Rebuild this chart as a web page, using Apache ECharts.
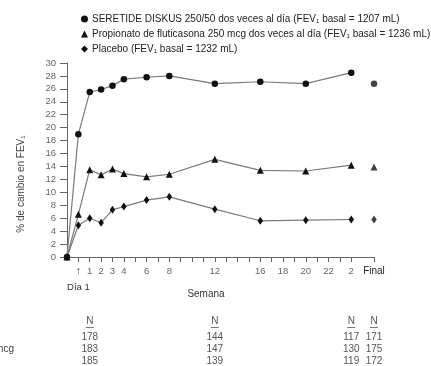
<!DOCTYPE html>
<html>
<head>
<meta charset="utf-8">
<script src="https://cdn.jsdelivr.net/npm/echarts@6/dist/echarts.min.js"></script>
<style>
  html, body { margin: 0; padding: 0; background: #fff; }
  #chart { width: 431px; height: 366px; }
</style>
</head>
<body>
<div id="chart"></div>
<script>
// eje x: 0, día 1, semanas 1..24, hueco, Final
const categories = ['0', 'd1'];
for (let w = 1; w <= 24; w++) categories.push(String(w));
categories.push('', 'Final');

// etiquetas visibles del eje x
const tickLabels = {
  '0': '0', 'd1': '{arr|↑}\n{day|Día 1}', '1': '1', '2': '2', '3': '3', '4': '4',
  '6': '6', '8': '8', '12': '12', '16': '16', '18': '18', '20': '20', '22': '22',
  '24': '2', 'Final': '{fin|Final}'
};

// puntos de medida
const visits = ['0', 'd1', '1', '2', '3', '4', '6', '8', '12', '16', '20', '24'];
const seretide = [0, 19.0, 25.5, 25.9, 26.5, 27.5, 27.8, 28.0, 26.8, 27.1, 26.8, 28.5];
const fluticasona = [0, 6.6, 13.5, 12.7, 13.6, 12.9, 12.4, 12.8, 15.1, 13.4, 13.3, 14.2];
const placebo = [0, 4.9, 6.0, 5.3, 7.3, 7.8, 8.8, 9.3, 7.4, 5.6, 5.7, 5.8];
const finalValues = [26.8, 13.9, 5.8];

const names = [
  'SERETIDE DISKUS 250/50 dos veces al día (FEV₁ basal = 1207 mL)',
  'Propionato de fluticasona 250 mcg dos veces al día (FEV₁ basal = 1236 mL)',
  'Placebo (FEV₁ basal = 1232 mL)'
];
const symbols = ['circle', 'triangle', 'diamond'];
const symbolSizes = [6.5, 7, [5.5, 8]];

// tabla de N
const nColumns = ['1', '12', '24', 'Final'];
const nRows = [
  ['178', '144', '117', '171'],
  ['183', '147', '130', '175'],
  ['185', '139', '119', '172']
];

const chart = echarts.init(document.getElementById('chart'));
const font = 'Liberation Sans, Arial, sans-serif';
const grid = { left: 67, right: 57, top: 63, bottom: 109 };

function pairs(values) {
  return visits.map((v, i) => [v, values[i]]);
}

let series = [];
[seretide, fluticasona, placebo].forEach((vals, i) => {
  series.push({
    type: 'line',
    name: names[i],
    data: pairs(vals),
    symbol: symbols[i],
    symbolSize: symbolSizes[i],
    itemStyle: { color: '#111' },
    lineStyle: { color: '#7a7a7a', width: 1.2 },
    z: 3 - i
  });
  series.push({
    type: 'scatter',
    data: [['Final', finalValues[i]]],
    symbol: symbols[i],
    symbolSize: symbolSizes[i],
    itemStyle: { color: '#111' }
  });
});

// texto de la tabla
let graphics = [];
function text(x, y, str, extra) {
  graphics.push({
    type: 'text', x: x, y: y, silent: true,
    style: Object.assign({
      text: str, font: '10px ' + font, fill: '#555',
      textAlign: 'center', textVerticalAlign: 'middle'
    }, extra || {})
  });
}

const chartW = 431 - grid.left - grid.right;
function catX(cat) {
  return grid.left + categories.indexOf(cat) * chartW / (categories.length - 1);
}

nColumns.forEach((c, j) => {
  let x = catX(c);
  text(x, 321, 'N');
  graphics.push({
    type: 'line', silent: true,
    shape: { x1: x - 4, y1: 327.5, x2: x + 4, y2: 327.5 },
    style: { stroke: '#555', lineWidth: 0.8 }
  });
  nRows.forEach((row, r) => text(x, 337 + r * 12, row[j]));
});
text(14, 349, 'Propionato de fluticasona 250 mcg', { textAlign: 'right', font: '10px ' + font, fill: '#444' });

text(206, 294, 'Semana', { font: '10px ' + font, fill: '#333' });
graphics.push({
  type: 'text', x: 21, y: 184, rotation: Math.PI / 2, silent: true,
  style: {
    text: '% de cambio en FEV₁', font: '10px ' + font, fill: '#444',
    textAlign: 'center', textVerticalAlign: 'middle'
  }
});

let option = {
  animation: false,
  grid: grid,
  legend: {
    data: names.map((n, i) => ({ name: n, icon: symbols[i] })),
    orient: 'vertical',
    left: 81,
    top: 13,
    padding: 0,
    itemGap: 3,
    itemWidth: 7,
    itemHeight: 7,
    lineStyle: { opacity: 0 },
    selectedMode: false,
    textStyle: { fontFamily: font, fontSize: 10, color: '#222', lineHeight: 12, padding: [0, 0, 0, -1] }
  },
  xAxis: {
    type: 'category',
    data: categories,
    boundaryGap: false,
    axisLine: { lineStyle: { color: '#666', width: 1 } },
    axisTick: {
      length: 5,
      interval: (i, v) => v !== '',
      lineStyle: { color: '#666' }
    },
    axisLabel: {
      interval: (i, v) => tickLabels[v] !== undefined,
      formatter: v => tickLabels[v],
      margin: 6,
      fontFamily: font,
      fontSize: 9.5,
      color: '#666',
      lineHeight: 16,
      rich: {
        arr: { fontSize: 11, color: '#444', lineHeight: 16 },
        day: { fontSize: 9.5, color: '#333', lineHeight: 16 },
        fin: { fontSize: 10, color: '#222', lineHeight: 16 }
      }
    }
  },
  yAxis: {
    type: 'value',
    min: 0,
    max: 30,
    interval: 2,
    splitLine: { show: false },
    axisLine: { show: true, lineStyle: { color: '#666' } },
    axisTick: { show: true, length: 7, lineStyle: { color: '#666' } },
    axisLabel: { fontFamily: font, fontSize: 9.5, color: '#666', margin: 11 }
  },
  graphic: graphics,
  series: series
};

chart.setOption(option);
</script>
</body>
</html>
